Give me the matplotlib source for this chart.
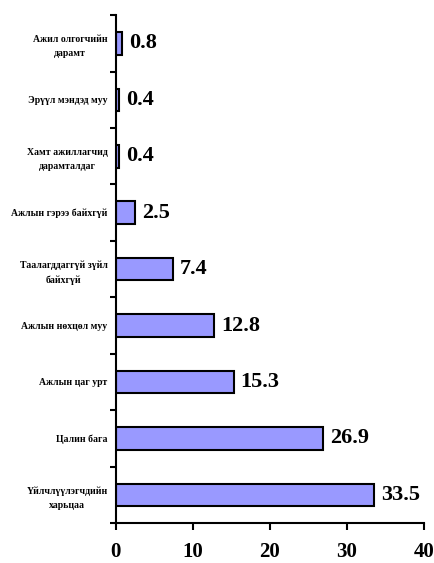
import matplotlib
matplotlib.use("Agg")
import matplotlib.pyplot as plt
import numpy as np

categories = ["Үйлчлүүлэгчдийн\nхарьцаа", "Цалин бага", "Ажлын цаг урт", "Ажлын нөхцөл муу",
              "Таалагддаггүй зүйл\nбайхгүй", "Ажлын гэрээ байхгүй", "Хамт ажиллагчид\nдарамталдаг",
              "Эрүүл мэндэд муу", "Ажил олгогчийн\nдарамт"]
values = [33.5, 26.9, 15.3, 12.8, 7.4, 2.5, 0.4, 0.4, 0.8]
xticks = [0, 10, 20, 30, 40]

plt.rcParams['font.family'] = ['Liberation Serif', 'DejaVu Serif']
plt.rcParams['font.weight'] = 'bold'

fig = plt.figure(figsize=(4.34, 5.63), dpi=100)
ax = fig.add_axes([0.267, 0.071, 0.710, 0.902])
y = np.arange(len(categories))
ax.barh(y, values, height=0.4, color='#9999FF', edgecolor='black', linewidth=1.5)
for yi, v in zip(y, values):
    ax.annotate(f"{v}", (v, yi), xytext=(5, 0), textcoords='offset points',
                va='center', ha='left', fontsize=16, fontweight='bold')
ax.set_ylim(-0.5, len(categories) - 0.5)
ax.set_xlim(0, 40)
ax.set_xticks(xticks)
ax.set_xticklabels([str(t) for t in xticks], fontsize=15, fontweight='bold')
ax.tick_params(axis='x', direction='out', length=5, width=1.5, pad=9)
ax.set_yticks(y)
ax.set_yticklabels(categories, fontsize=7, fontweight='bold', multialignment='center',
                   linespacing=1.7)
ax.tick_params(axis='y', which='major', length=0, pad=6)
ax.set_yticks(np.arange(-0.5, len(categories), 1.0), minor=True)
ax.tick_params(axis='y', which='minor', direction='out', length=4, width=1.5)
for s in ['top', 'right']:
    ax.spines[s].set_visible(False)
for s in ['left', 'bottom']:
    ax.spines[s].set_linewidth(1.5)
fig.savefig("out.png", dpi=100)
